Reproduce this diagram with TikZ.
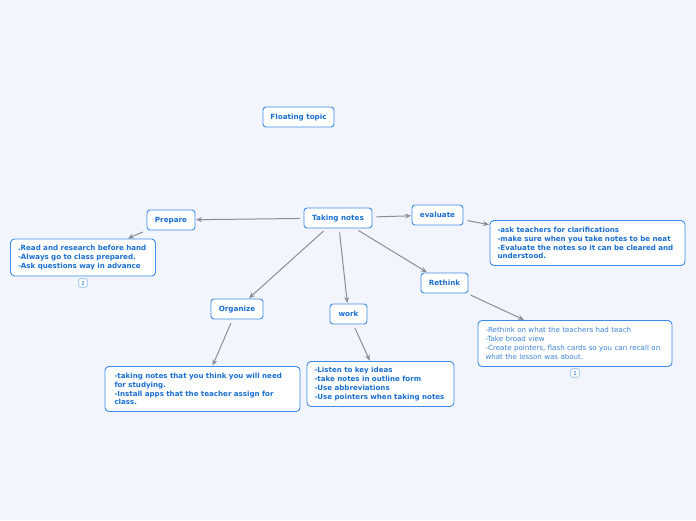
\documentclass[tikz,border=0pt]{standalone}
\usepackage{fontspec}
\setmainfont{DejaVu Sans}
\usetikzlibrary{arrows.meta}
\definecolor{bgc}{HTML}{F2F5FE}
\definecolor{bordc}{HTML}{3D8BE8}
\definecolor{txtc}{HTML}{1A6FD1}
\definecolor{linec}{HTML}{8A8E96}
\definecolor{badgec}{HTML}{8DB8EE}
\newcommand{\nohyph}{\hyphenpenalty=10000 \exhyphenpenalty=10000 \relax}
\tikzset{
  topic/.style={draw=bordc, line width=0.9pt, fill=white, rounded corners=3pt,
    text=txtc, font=\fontsize{7.2}{8}\selectfont\bfseries, inner sep=0pt, minimum height=20pt,
    text height=5.3pt, text depth=0.3pt},
  detail/.style={draw=bordc, line width=0.9pt, fill=white, rounded corners=4pt,
    text=txtc, font=\fontsize{7.1}{8.8}\selectfont\bfseries,
    execute at begin node=\nohyph,
    align=left, inner xsep=7.5pt, inner ysep=0pt},
  plain/.style={detail, font=\fontsize{7.1}{8.8}\selectfont, text=txtc!85},
  badge/.style={draw=badgec, line width=0.6pt, fill=white, rounded corners=1.5pt,
    text=txtc, font=\fontsize{5.5}{5.5}\selectfont, inner sep=0pt, minimum width=8.5pt, minimum height=8.5pt},
  conn/.style={draw=linec, line width=1pt, -{Stealth[length=6pt,width=5pt]}, shorten <=4pt, shorten >=0.5pt}
}
\begin{document}
\begin{tikzpicture}[x=1pt,y=-1pt]
\fill[bgc] (0,0) rectangle (696,520);
\useasboundingbox (0,0) rectangle (696,520);

\node[topic, minimum width=71pt] (float) at (298.5,117) {Floating topic};
\node[topic, minimum width=68pt] (tn) at (338,218) {Taking notes};
\node[topic, minimum width=48pt] (prep) at (171,220) {Prepare};
\node[topic, minimum width=51pt] (eval) at (437.5,215) {evaluate};
\node[topic, minimum width=47pt] (reth) at (444.5,283) {Rethink};
\node[topic, minimum width=52pt] (org) at (237,309) {Organize};
\node[topic, minimum width=37pt] (work) at (348.5,314) {work};

\node[detail, minimum width=144pt, minimum height=37pt, text width=130pt] (prepd) at (83,257.5)
  {.Read and research before hand\\-Always go to class prepared.\\-Ask questions way in advance};
\node[detail, minimum width=195pt, minimum height=45pt, text width=180pt] (evald) at (587.5,243)
  {-ask teachers for clarifications\\-make sure when you take notes to be neat\\-Evaluate the notes so it can be cleared and understood.};
\node[plain, minimum width=194pt, minimum height=46pt, text width=179pt] (rethd) at (575,343.5)
  {-Rethink on what the teachers had teach\\-Take broad view\\-Create pointers, flash cards so you can recall on what the lesson was about.};
\node[detail, minimum width=195pt, minimum height=45pt, text width=176pt] (orgd) at (202.5,389)
  {-taking notes that you think you will need for studying.\\-Install apps that the teacher assign for class.};
\node[detail, minimum width=147pt, minimum height=45pt, text width=132pt] (workd) at (380.5,384)
  {-Listen to key ideas\\-take notes in outline form\\-Use abbreviations\\-Use pointers when taking notes};

\node[badge] (b2) at (83,283) {2};
\node[badge] (b1) at (575,373) {1};

\draw[conn] (tn) -- (prep);
\draw[conn] (tn) -- (eval);
\draw[conn] (tn) -- (org);
\draw[conn] (tn) -- (work);
\draw[conn] (tn) -- (reth);
\draw[conn] (prep) -- (prepd);
\draw[conn] (eval) -- (evald);
\draw[conn] (reth) -- (rethd);
\draw[conn] (org) -- (orgd);
\draw[conn] (work) -- (workd);
\end{tikzpicture}
\end{document}
